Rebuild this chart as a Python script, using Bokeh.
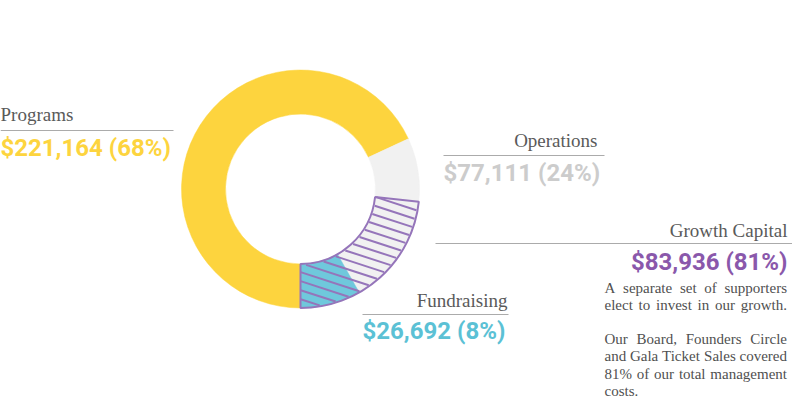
import math
import numpy as np
from bokeh.plotting import figure
from bokeh.models import ColumnDataSource
from bokeh.embed import file_html
from bokeh.resources import INLINE
from bokeh.core.properties import value

# ---------------- data ----------------
categories = ["Programs", "Operations", "Fundraising"]
amounts = [221164, 77111, 26692]
percent_labels = ["68%", "24%", "8%"]
slice_colors = ["#FDD43E", "#F1F1F1", "#6FC8DC"]
value_colors = ["#FDD43E", "#CCCCCC", "#5BC1D5"]

growth_label = "Growth Capital"
growth_amount = 83936
growth_percent = "81%"
growth_arc_share = 0.233          # share of the ring covered by the hatched arc
growth_color = "#8A58AB"
hatch_color = "#9575BA"

note_paragraphs = [
    ["A separate set of supporters", "elect to invest in our growth."],
    ["Our Board, Founders Circle", "and Gala Ticket Sales covered",
     "81% of our total management", "costs."],
]

# ---------------- figure ----------------
W, H = 792, 398
p = figure(width=W, height=H, x_range=(0, W), y_range=(0, H),
           output_backend="svg", toolbar_location=None,
           x_axis_type=None, y_axis_type=None, min_border=0)
p.grid.visible = False
p.outline_line_color = None
p.background_fill_color = "white"
p.border_fill_color = "white"

cx, cy = 300, 209.5
r_in, r_out = 75, 119

total = sum(amounts)
starts, ends = [], []
cur = 1.5 * math.pi
for a in amounts:
    span = a / total * 2 * math.pi
    ends.append(cur)
    starts.append(cur - span)
    cur -= span

src = ColumnDataSource(dict(start=starts, end=ends, color=slice_colors))
p.annular_wedge(x=cx, y=cy, inner_radius=r_in, outer_radius=r_out,
                start_angle="start", end_angle="end", fill_color="color",
                line_color="color", line_width=0.5, source=src)

# hatched growth arc
h_start = -0.5 * math.pi
h_end = h_start + growth_arc_share * 2 * math.pi
theta = math.radians(-18)
d = (math.cos(theta), math.sin(theta))
nrm = (-math.sin(theta), math.cos(theta))
t = np.arange(-r_out - 5, r_out + 5, 0.2)
hx, hy = [], []
for c in np.arange(-r_out - 3, r_out + 3, 8.6):
    px = cx + c * nrm[0] + t * d[0]
    py = cy + c * nrm[1] + t * d[1]
    rr = np.hypot(px - cx, py - cy)
    aa = np.arctan2(py - cy, px - cx)
    inside = (rr >= r_in + 1) & (rr <= r_out - 1) & (aa >= h_start) & (aa <= h_end)
    idx = np.flatnonzero(inside)
    if idx.size < 2:
        continue
    splits = np.flatnonzero(np.diff(idx) > 1)
    for seg in np.split(idx, splits + 1):
        if seg.size < 2:
            continue
        hx.append([px[seg[0]], px[seg[-1]]])
        hy.append([py[seg[0]], py[seg[-1]]])
p.multi_line(hx, hy, line_color=hatch_color, line_width=2)
p.annular_wedge(x=cx, y=cy, inner_radius=r_in, outer_radius=r_out,
                start_angle=h_start, end_angle=h_end, fill_alpha=0,
                line_color=hatch_color, line_width=2)

# ---------------- labels ----------------
serif = value("Liberation Serif")
sans = value("Roboto")
title_color = "#5A5A5A"
rule_color = "#ABABAB"

def money(a, pct):
    return f"${a:,} ({pct})"

titles = categories + [growth_label]
title_x = [0, 597, 507, 787]
title_y = [284, 258, 98.3, 168]
title_align = ["left", "right", "right", "right"]
p.text(x=title_x, y=title_y, text=titles, text_font=serif, text_font_size="19px",
       text_color=title_color, text_align=title_align, text_baseline="alphabetic")

vals = [money(a, pc) for a, pc in zip(amounts, percent_labels)] + [money(growth_amount, growth_percent)]
val_x = [0, 443, 362, 787]
val_y = [251, 226, 67.5, 137]
val_align = ["left", "left", "left", "right"]
p.text(x=val_x, y=val_y, text=vals, text_font=sans, text_font_style="bold",
       text_font_size="24px", text_color=value_colors + [growth_color],
       text_align=val_align, text_baseline="alphabetic")

p.segment(x0=[0, 443, 362, 435], y0=[268, 243, 84, 155],
          x1=[173, 604, 508, 792], y1=[268, 243, 84, 155],
          line_color=rule_color, line_width=1)

# justified note paragraph (Times-metric widths)
TW = {' ': 250, ',': 250, '.': 250, '%': 833}
TW.update({ch: 500 for ch in "0123456789"})
TW.update(dict(a=444, b=500, c=444, d=500, e=444, f=333, g=500, h=500, i=278, j=278,
               k=500, l=278, m=778, n=500, o=500, p=500, q=500, r=333, s=389, t=278,
               u=500, v=500, w=722, x=500, y=500, z=444))
TW.update(dict(A=722, B=667, C=667, D=722, E=611, F=556, G=722, H=722, I=333,
               O=722, P=556, S=556, T=611))
fs = 15
def wwidth(word):
    return sum(TW.get(ch, 500) for ch in word) * fs / 1000.0

left, right = 604, 786.5
lead = 17.2
wx, wy, wt = [], [], []
k = 0
for para in note_paragraphs:
    for li, line in enumerate(para):
        words = line.split(" ")
        y = 111 - k * lead
        last = (li == len(para) - 1) and len(words) < 3
        if last or len(words) == 1:
            gap = 250 * fs / 1000.0
        else:
            gap = (right - left - sum(wwidth(w) for w in words)) / (len(words) - 1)
        x = left
        for w in words:
            wx.append(x); wy.append(y); wt.append(w)
            x += wwidth(w) + gap
        k += 1
    k += 1
p.text(x=wx, y=wy, text=wt, text_font=serif, text_font_size=f"{fs}px",
       text_color="#505050", text_align="left", text_baseline="alphabetic")

open("out.html", "w").write(file_html(p, INLINE))
